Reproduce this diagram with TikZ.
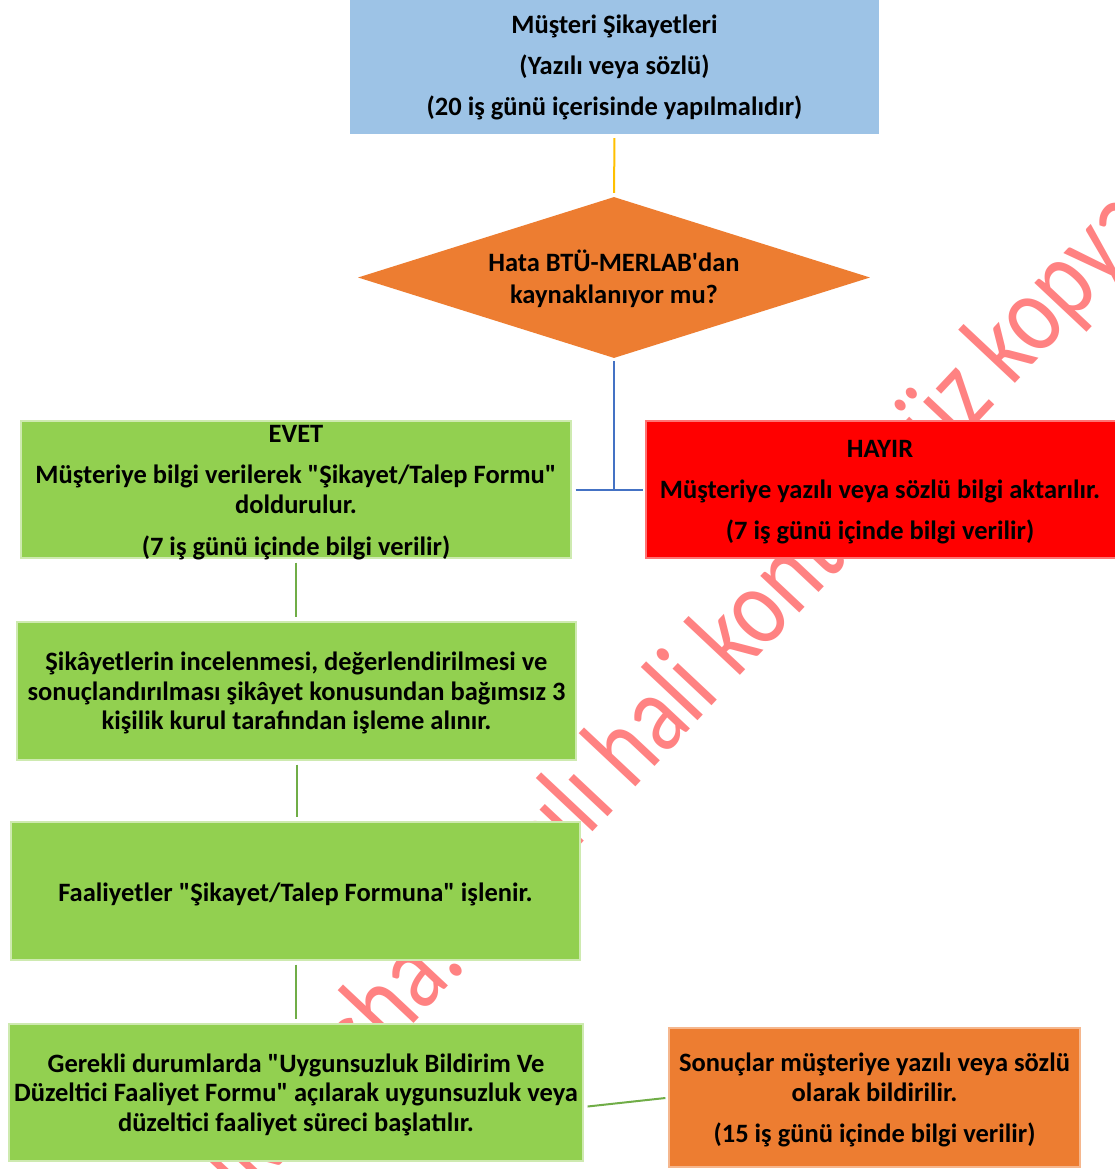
\documentclass[tikz,border=0pt]{standalone}
\usepackage{fontspec}
\usepackage{graphicx}
\setmainfont{Carlito}
\usetikzlibrary{shapes.geometric,calc}
\definecolor{boxblue}{HTML}{9DC3E6}
\definecolor{boxorange}{HTML}{ED7D31}
\definecolor{boxgreen}{HTML}{92D050}
\definecolor{boxred}{HTML}{FF0000}
\definecolor{lineyellow}{HTML}{FFC000}
\definecolor{lineblue}{HTML}{4472C4}
\definecolor{linegreen}{HTML}{70AD47}
\definecolor{wmred}{HTML}{FF8282}
\newcommand{\dq}{\textquotedbl}
\begin{document}
\begin{tikzpicture}[x=1pt,y=-1pt,
  box/.style={rectangle, inner sep=0pt},
  greenbox/.style={box, fill=boxgreen, draw=boxgreen!45!white, line width=1.2pt},
  txt/.style={inner sep=0pt, align=center, text=black,
    font=\bfseries\fontsize{26.5}{29.5}\selectfont},
  wm/.style={rotate=46.8, text=wmred, inner sep=0pt,
    font=\fontsize{112}{112}\selectfont},
  conn/.style={line width=2pt},
]
\useasboundingbox (0,0) rectangle (1115,1169);
\fill[white] (0,0) rectangle (1115,1169);
% watermark
\begin{scope}
\clip (0,0) rectangle (1115,1169);
\node[wm] (wm) at (614,766.5) {\scalebox{0.81}[1]{Elektronik nüsha. Basılı hali kontrolsüz kopyadır.}};
\end{scope}
% boxes
\node[box, fill=boxblue, minimum width=529pt, minimum height=134pt] (top) at (614.5,67) {};
\node[txt] (toptxt) at ($(top.center)+(0,0)$)
  {Müşteri Şikayetleri\\[11.5pt] (Yazılı veya sözlü)\\[11.5pt] (20 iş günü içerisinde yapılmalıdır)};
\node[diamond, aspect=3.18, fill=boxorange, inner sep=0pt,
  minimum width=512pt, minimum height=161pt] (dia) at (614,277.5) {};
\node[txt, font=\bfseries\fontsize{26.5}{32}\selectfont] (diatxt) at ($(dia.center)+(0,1.5)$)
  {Hata BTÜ-MERLAB\textquotesingle dan\\ kaynaklanıyor mu?};
\node[greenbox, minimum width=550pt, minimum height=137pt] (evet) at (296,489.5) {};
\node[txt] (evettxt) at ($(evet.center)+(0,3)$)
  {EVET\\[11.5pt] Müşteriye bilgi verilerek \dq Şikayet/Talep Formu\dq\\ doldurulur.\\[12.5pt] (7 iş günü içinde bilgi verilir)};
\node[box, fill=boxred, draw=boxred!55!white, line width=1.2pt, minimum width=470pt, minimum height=137pt] (hayir) at (881,489.5) {};
\node[txt] (hayirtxt) at ($(hayir.center)+(-1,3)$)
  {HAYIR\\[11.5pt] Müşteriye yazılı veya sözlü bilgi aktarılır.\\[11.5pt] (7 iş günü içinde bilgi verilir)};
\node[greenbox, minimum width=559pt, minimum height=138pt] (b2) at (296.5,691) {};
\node[txt] (b2txt) at ($(b2.center)+(0,2)$)
  {Şikâyetlerin incelenmesi, değerlendirilmesi ve\\ sonuçlandırılması şikâyet konusundan bağımsız 3\\ kişilik kurul tarafından işleme alınır.};
\node[greenbox, minimum width=569pt, minimum height=138pt] (b3) at (295.5,891) {};
\node[txt] (b3txt) at ($(b3.center)+(0,3)$)
  {Faaliyetler \dq Şikayet/Talep Formuna\dq{} işlenir.};
\node[greenbox, minimum width=574pt, minimum height=137pt] (b4) at (296,1092.5) {};
\node[txt] (b4txt) at ($(b4.center)+(0,2)$)
  {Gerekli durumlarda \dq Uygunsuzluk Bildirim Ve\\ Düzeltici Faaliyet Formu\dq{} açılarak uygunsuzluk veya\\ düzeltici faaliyet süreci başlatılır.};
\node[box, fill=boxorange, draw=boxorange!55!white, line width=1.2pt, minimum width=411pt, minimum height=139pt] (b5) at (874.5,1097.5) {};
\node[txt] (b5txt) at ($(b5.center)+(0,2.5)$)
  {Sonuçlar müşteriye yazılı veya sözlü\\ olarak bildirilir.\\[11.5pt] (15 iş günü içinde bilgi verilir)};
% connectors
\draw[conn, lineyellow, shorten <=4pt, shorten >=4pt] (top.south) -- (dia.north);
\coordinate (junc) at (dia.south |- evet.east);
\draw[conn, lineblue, shorten <=3pt] (dia.south) -- (junc);
\draw[conn, lineblue, shorten <=4pt, shorten >=2pt] (evet.east) -- (hayir.west);
\draw[conn, linegreen, shorten <=4pt, shorten >=4pt] (evet.south) -- (evet.south |- b2.north);
\draw[conn, linegreen, shorten <=4pt, shorten >=4pt] (b2.south) -- (b2.south |- b3.north);
\draw[conn, linegreen, shorten <=4pt, shorten >=4pt] (b3.south) -- (b3.south |- b4.north);
\draw[conn, linegreen] ($(b4.east)+(4,14)$) -- ($(b5.west)+(-3,0.5)$);
\end{tikzpicture}
\end{document}
